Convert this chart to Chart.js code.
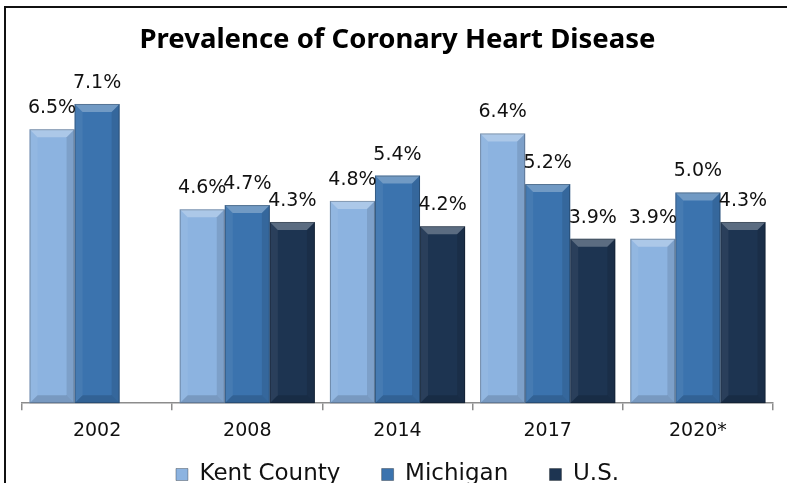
<!DOCTYPE html>
<html><head><meta charset="utf-8">
<script src="https://cdn.jsdelivr.net/npm/chart.js@4.4.0/dist/chart.umd.min.js"></script>
<style>
html,body{margin:0;padding:0;overflow:hidden;background:#fff;width:787px;height:483px}
#wrap{position:absolute;left:0;top:0;width:787px;height:496px}
#frame{position:absolute;left:4px;top:6px;width:800px;height:500px;border-left:2px solid #111;border-top:2px solid #111;box-sizing:border-box;pointer-events:none}
</style></head><body>
<div id="wrap"><canvas id="c" width="787" height="496"></canvas></div>
<div id="frame"></div>
<script>
const categories = ['2002', '2008', '2014', '2017', '2020*'];
const kentCounty = [6.5, 4.6, 4.8, 6.4, 3.9];
const michigan = [7.1, 4.7, 5.4, 5.2, 5.0];
const unitedStates = [null, 4.3, 4.2, 3.9, 4.3];
const seriesNames = ['Kent County', 'Michigan', 'U.S.'];
const seriesColors = ['#8cb3e0', '#3b73ae', '#1d3451'];
const chartTitle = 'Prevalence of Coronary Heart Disease';

const labelFont = '19px "DejaVu Sans"';

const bevelPlugin = {
  id: 'bevel',
  afterDatasetsDraw(chart) {
    const ctx = chart.ctx;
    chart.data.datasets.forEach((ds, i) => {
      const meta = chart.getDatasetMeta(i);
      meta.data.forEach((el, j) => {
        if (ds.data[j] == null) return;
        const p = el.getProps(['x', 'y', 'base', 'width'], true);
        const l = p.x - p.width / 2, r = p.x + p.width / 2, t = p.y, b = p.base;
        const bv = Math.min(8, (b - t) / 2);
        ctx.save();
        ctx.fillStyle = 'rgba(255,255,255,0.28)';
        ctx.beginPath(); ctx.moveTo(l, t); ctx.lineTo(r, t); ctx.lineTo(r - bv, t + bv); ctx.lineTo(l + bv, t + bv); ctx.closePath(); ctx.fill();
        ctx.fillStyle = 'rgba(0,0,0,0.10)';
        ctx.beginPath(); ctx.moveTo(r, t); ctx.lineTo(r, b); ctx.lineTo(r - bv, b - bv); ctx.lineTo(r - bv, t + bv); ctx.closePath(); ctx.fill();
        ctx.fillStyle = 'rgba(255,255,255,0.06)';
        ctx.beginPath(); ctx.moveTo(l, t); ctx.lineTo(l, b); ctx.lineTo(l + bv, b - bv); ctx.lineTo(l + bv, t + bv); ctx.closePath(); ctx.fill();
        ctx.fillStyle = 'rgba(0,0,0,0.14)';
        ctx.beginPath(); ctx.moveTo(l, b); ctx.lineTo(r, b); ctx.lineTo(r - bv, b - bv); ctx.lineTo(l + bv, b - bv); ctx.closePath(); ctx.fill();
        ctx.strokeStyle = 'rgba(0,0,0,0.25)';
        ctx.lineWidth = 1;
        ctx.strokeRect(l + 0.5, t + 0.5, p.width - 1, b - t - 1);
        ctx.restore();
      });
    });
  }
};

const valueLabelPlugin = {
  id: 'valueLabels',
  afterDatasetsDraw(chart) {
    const ctx = chart.ctx;
    ctx.save();
    ctx.font = labelFont;
    ctx.fillStyle = '#111';
    ctx.textAlign = 'center';
    ctx.textBaseline = 'alphabetic';
    chart.data.datasets.forEach((ds, i) => {
      const meta = chart.getDatasetMeta(i);
      meta.data.forEach((el, j) => {
        const v = ds.data[j];
        if (v == null) return;
        ctx.fillText(v.toFixed(1) + '%', el.x, el.y - 16);
      });
    });
    ctx.restore();
  }
};

new Chart(document.getElementById('c'), {
  type: 'bar',
  data: {
    labels: categories,
    datasets: [
      { label: seriesNames[0], data: kentCounty, backgroundColor: seriesColors[0] },
      { label: seriesNames[1], data: michigan, backgroundColor: seriesColors[1] },
      { label: seriesNames[2], data: unitedStates, backgroundColor: seriesColors[2] }
    ]
  },
  options: {
    responsive: false,
    animation: false,
    devicePixelRatio: 1,
    layout: { padding: { left: 22, right: 14, top: 0, bottom: 0 } },
    datasets: { bar: { categoryPercentage: 0.9, barPercentage: 1.0, borderWidth: 0 } },
    scales: {
      x: {
        grid: { display: true, drawOnChartArea: false, drawTicks: true, tickLength: 7, color: '#8c8c8c', lineWidth: 1.5 },
        border: { display: true, color: '#8c8c8c', width: 1.5 },
        ticks: { color: '#111', font: { family: 'DejaVu Sans', size: 19 }, padding: 9 }
      },
      y: { display: false, min: 0, max: 8 }
    },
    plugins: {
      title: {
        display: true, text: chartTitle, color: '#000',
        font: { family: 'Noto Sans', size: 27.5, weight: 'bold', lineHeight: 1.2 },
        padding: { top: 24, bottom: 9 }
      },
      legend: {
        position: 'bottom',
        labels: {
          color: '#111',
          font: { family: 'DejaVu Sans', size: 23 },
          boxWidth: 12, boxHeight: 12, padding: 12,
          generateLabels(chart) {
            const items = Chart.defaults.plugins.legend.labels.generateLabels(chart);
            items.forEach((it, i) => { if (i < items.length - 1) it.text = it.text + '    '; it.lineWidth = 1; it.strokeStyle = 'rgba(0,0,0,0.3)'; });
            return items;
          }
        }
      },
      tooltip: { enabled: false }
    }
  },
  plugins: [bevelPlugin, valueLabelPlugin]
});
</script>
</body></html>
